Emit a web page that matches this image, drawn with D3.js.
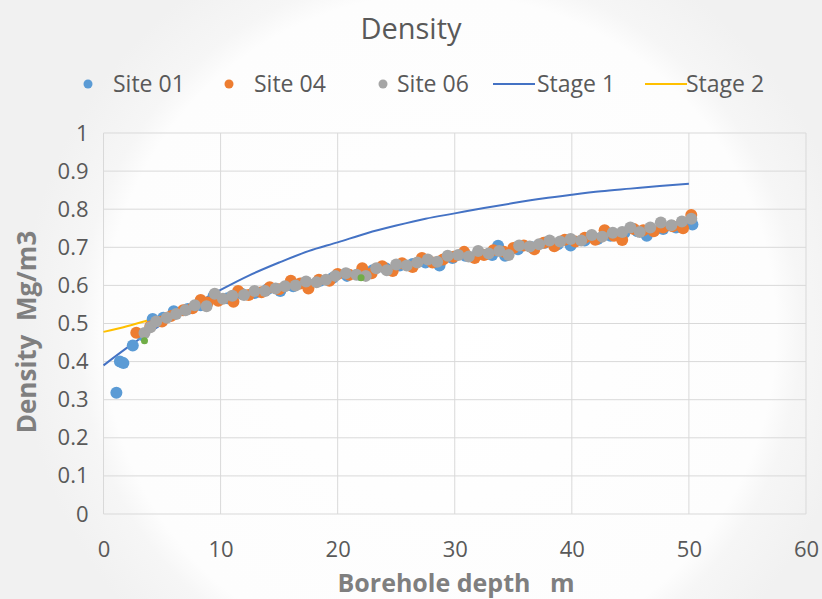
<!DOCTYPE html>
<html>
<head>
<meta charset="utf-8">
<script src="https://cdn.jsdelivr.net/npm/d3@7"></script>
<style>
  body { margin: 0; background: #f2f2f2; }
  svg { display: block; font-family: "Open Sans", "Noto Sans", sans-serif; }
</style>
</head>
<body>
<script>
// Site 01 (blue)
const site01Depth = [1.1, 1.4, 1.7, 2.5, 3.3, 4.2, 5.1, 6.0, 7.2, 8.3, 9.4, 10.6, 11.8, 12.9, 14.0, 15.1, 16.2, 17.4, 18.5, 19.6, 20.8, 21.9, 23.0, 24.1, 25.3, 26.4, 27.5, 28.7, 29.8, 30.9, 32.0, 33.2, 33.7, 34.3, 35.4, 36.6, 37.7, 38.8, 39.9, 41.1, 42.2, 43.3, 44.5, 45.6, 46.4, 47.8, 48.9, 50.3];
const site01Density = [0.318, 0.400, 0.396, 0.442, 0.470, 0.512, 0.515, 0.532, 0.538, 0.548, 0.572, 0.566, 0.578, 0.580, 0.590, 0.585, 0.598, 0.605, 0.612, 0.620, 0.625, 0.628, 0.640, 0.645, 0.652, 0.656, 0.660, 0.652, 0.672, 0.678, 0.686, 0.680, 0.704, 0.678, 0.695, 0.700, 0.712, 0.708, 0.705, 0.718, 0.722, 0.730, 0.738, 0.742, 0.730, 0.748, 0.752, 0.760];

// Site 04 (orange)
const site04Depth = [2.8, 4.0, 5.0, 5.8, 6.8, 7.6, 8.3, 8.9, 9.8, 11.1, 11.5, 12.4, 13.5, 14.2, 15.0, 16.0, 16.8, 17.5, 18.4, 19.3, 20.0, 21.0, 22.1, 22.9, 23.8, 24.7, 25.5, 26.4, 27.2, 28.1, 29.0, 29.9, 30.8, 31.7, 32.5, 33.3, 34.2, 35.0, 35.9, 36.8, 37.6, 38.5, 39.4, 40.3, 41.1, 42.0, 42.8, 43.6, 44.3, 45.3, 46.1, 47.0, 47.8, 48.6, 49.5, 50.2];
const site04Density = [0.476, 0.492, 0.505, 0.520, 0.535, 0.540, 0.562, 0.555, 0.560, 0.557, 0.585, 0.575, 0.582, 0.595, 0.590, 0.612, 0.605, 0.592, 0.615, 0.612, 0.630, 0.628, 0.645, 0.632, 0.650, 0.638, 0.658, 0.648, 0.672, 0.660, 0.668, 0.675, 0.688, 0.672, 0.680, 0.692, 0.688, 0.698, 0.705, 0.695, 0.712, 0.703, 0.720, 0.715, 0.725, 0.720, 0.745, 0.730, 0.719, 0.748, 0.745, 0.742, 0.752, 0.755, 0.750, 0.785];

// Site 06 (grey)
const site06Depth = [3.5, 4.0, 4.5, 5.4, 6.2, 7.0, 7.8, 8.8, 9.5, 10.2, 11.0, 12.0, 12.9, 13.8, 14.7, 15.5, 16.4, 17.3, 18.2, 19.0, 19.8, 20.7, 21.6, 22.4, 23.3, 24.2, 25.0, 25.9, 26.8, 27.7, 28.5, 29.4, 30.3, 31.2, 32.0, 32.9, 33.8, 34.6, 35.5, 36.4, 37.2, 38.1, 39.0, 39.9, 40.8, 41.7, 42.6, 43.5, 44.3, 45.0, 45.8, 46.7, 47.6, 48.5, 49.4, 50.2];
const site06Density = [0.475, 0.490, 0.505, 0.515, 0.525, 0.535, 0.548, 0.545, 0.578, 0.565, 0.573, 0.575, 0.585, 0.585, 0.592, 0.598, 0.600, 0.610, 0.608, 0.615, 0.625, 0.632, 0.628, 0.625, 0.645, 0.640, 0.655, 0.652, 0.660, 0.668, 0.662, 0.678, 0.680, 0.676, 0.690, 0.684, 0.690, 0.680, 0.705, 0.702, 0.708, 0.718, 0.715, 0.722, 0.718, 0.732, 0.728, 0.738, 0.740, 0.752, 0.740, 0.752, 0.765, 0.758, 0.768, 0.775];

// small green points (unlabelled series)
const extraDepth = [3.5, 22.0];
const extraDensity = [0.455, 0.620];

// Stage curves
const stage1Depth = [0, 2.5, 5, 7.5, 10, 12.5, 15, 17.5, 20, 22.5, 25, 27.5, 30, 32.5, 35, 37.5, 40, 42.5, 45, 47.5, 50];
const stage1Density = [0.39, 0.447, 0.498, 0.545, 0.588, 0.627, 0.66, 0.69, 0.713, 0.737, 0.757, 0.775, 0.789, 0.803, 0.816, 0.828, 0.838, 0.847, 0.854, 0.861, 0.867];
const stage2Depth = [0, 2, 4.2];
const stage2Density = [0.478, 0.493, 0.512];

const xTicks = [0, 10, 20, 30, 40, 50, 60];
const yTicks = [0, 0.1, 0.2, 0.3, 0.4, 0.5, 0.6, 0.7, 0.8, 0.9, 1];

const width = 822, height = 599;
const margin = { left: 103.5, right: 16, top: 133, bottom: 85 };

const svg = d3.select('body').append('svg')
  .attr('width', width)
  .attr('height', height);

// background with soft radial glow
const defs = svg.append('defs');
const grad = defs.append('radialGradient')
  .attr('id', 'bg')
  .attr('gradientUnits', 'userSpaceOnUse')
  .attr('cx', 440).attr('cy', 330).attr('r', 420);
grad.append('stop').attr('offset', 0).attr('stop-color', '#ffffff');
grad.append('stop').attr('offset', 0.8).attr('stop-color', '#fdfdfd');
grad.append('stop').attr('offset', 0.86).attr('stop-color', '#f6f6f6');
grad.append('stop').attr('offset', 1).attr('stop-color', '#f1f1f1');
svg.append('rect').attr('width', width).attr('height', height).attr('fill', 'url(#bg)');

const x = d3.scaleLinear().domain([0, 60]).range([margin.left, width - margin.right]);
const y = d3.scaleLinear().domain([0, 1]).range([height - margin.bottom, margin.top]);

// gridlines
svg.append('g')
  .selectAll('line.h')
  .data(yTicks)
  .join('line')
  .attr('x1', x(0)).attr('x2', x(60))
  .attr('y1', d => y(d)).attr('y2', d => y(d))
  .attr('stroke', '#d9d9d9').attr('stroke-width', 1);

svg.append('g')
  .selectAll('line.v')
  .data(xTicks)
  .join('line')
  .attr('x1', d => x(d)).attr('x2', d => x(d))
  .attr('y1', y(0)).attr('y2', y(1))
  .attr('stroke', '#d9d9d9').attr('stroke-width', 1);

// axes labels via d3 axes, with lines hidden
const xAxis = svg.append('g')
  .attr('transform', `translate(0,${y(0)})`)
  .call(d3.axisBottom(x).tickValues(xTicks).tickSize(0).tickPadding(27).tickFormat(d3.format('d')));
const yAxis = svg.append('g')
  .attr('transform', `translate(${x(0)},0)`)
  .call(d3.axisLeft(y).tickValues(yTicks).tickSize(0).tickPadding(15).tickFormat(d => d === 0 || d === 1 ? d3.format('d')(d) : d3.format('.1f')(d)));
[xAxis, yAxis].forEach(a => {
  a.select('.domain').remove();
  a.selectAll('text')
    .attr('fill', '#595959')
    .style('font-size', '22px')
    .style('font-family', '"Open Sans", sans-serif');
});

// stage lines
const line = d3.line().x(d => x(d[0])).y(d => y(d[1])).curve(d3.curveMonotoneX);
svg.append('path')
  .datum(d3.zip(stage2Depth, stage2Density))
  .attr('d', line)
  .attr('fill', 'none').attr('stroke', '#ffc000').attr('stroke-width', 2);
svg.append('path')
  .datum(d3.zip(stage1Depth, stage1Density))
  .attr('d', line)
  .attr('fill', 'none').attr('stroke', '#4472c4').attr('stroke-width', 2);

// scatter points
const series = [
  { depth: site01Depth, density: site01Density, color: '#5b9bd5', r: 6 },
  { depth: site04Depth, density: site04Density, color: '#ed7d31', r: 6 },
  { depth: site06Depth, density: site06Density, color: '#a5a5a5', r: 6 },
  { depth: extraDepth, density: extraDensity, color: '#70ad47', r: 3.5 }
];
series.forEach(s => {
  svg.append('g')
    .selectAll('circle')
    .data(d3.zip(s.depth, s.density))
    .join('circle')
    .attr('cx', d => x(d[0]))
    .attr('cy', d => y(d[1]))
    .attr('r', s.r)
    .attr('fill', s.color);
});

// title
svg.append('text')
  .attr('x', 411).attr('y', 39)
  .attr('text-anchor', 'middle')
  .attr('fill', '#595959')
  .style('font-size', '29px')
  .text('Density');

// axis titles
svg.append('text')
  .attr('x', 456).attr('y', 592)
  .attr('text-anchor', 'middle')
  .attr('fill', '#7f7f7f')
  .style('font-size', '25px')
  .style('font-weight', 'bold')
  .style('white-space', 'pre')
  .text('Borehole depth   m');

svg.append('text')
  .attr('transform', 'translate(36,332) rotate(-90)')
  .attr('text-anchor', 'middle')
  .attr('fill', '#7f7f7f')
  .style('font-size', '26px')
  .style('font-weight', 'bold')
  .style('white-space', 'pre')
  .text('Density  Mg/m3');

// legend
const legendItems = [
  { name: 'Site 01', type: 'dot', color: '#5b9bd5', mx: 88, tx: 113 },
  { name: 'Site 04', type: 'dot', color: '#ed7d31', mx: 229, tx: 254 },
  { name: 'Site 06', type: 'dot', color: '#a5a5a5', mx: 383, tx: 397 },
  { name: 'Stage 1', type: 'line', color: '#4472c4', mx: 493, tx: 537 },
  { name: 'Stage 2', type: 'line', color: '#ffc000', mx: 645, tx: 686 }
];
const lg = svg.append('g');
legendItems.forEach(it => {
  if (it.type === 'dot') {
    lg.append('circle').attr('cx', it.mx).attr('cy', 84).attr('r', 4.5).attr('fill', it.color);
  } else {
    lg.append('line').attr('x1', it.mx).attr('x2', it.mx + 42)
      .attr('y1', 84).attr('y2', 84)
      .attr('stroke', it.color).attr('stroke-width', 2);
  }
  lg.append('text')
    .attr('x', it.tx).attr('y', 92)
    .attr('fill', '#595959')
    .style('font-size', '23px')
    .text(it.name);
});
</script>
</body>
</html>
